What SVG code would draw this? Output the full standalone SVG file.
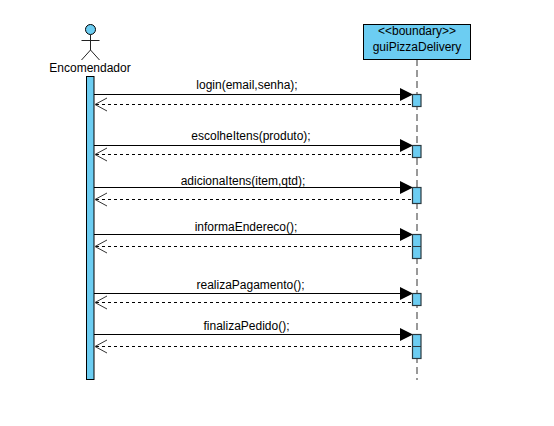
<svg xmlns="http://www.w3.org/2000/svg" width="554" height="426" viewBox="0 0 554 426">
<style>
text{font-family:"Liberation Sans",Arial,sans-serif;font-size:12px;fill:#000;text-anchor:middle}
.fill{fill:#6ccdf2;stroke:#000;stroke-width:1}
.act{fill:#6ccdf2;stroke:#2b3a40;stroke-width:1.2}
.sync{fill:none;stroke:#000;stroke-width:1}
.ret{fill:none;stroke:#000;stroke-width:1;stroke-dasharray:3 3}
.head{fill:#000;stroke:none}
.open{fill:none;stroke:#333;stroke-width:1}
.lim{fill:none;stroke:#222;stroke-width:1}
</style>
<rect width="554" height="426" fill="#fff"/>
<g id="connectors">
<line x1="417" y1="59" x2="417" y2="380" stroke="#808080" stroke-width="1.6" stroke-dasharray="7 4"/>
<g id="m1"><line class="sync" x1="94" y1="94.5" x2="402" y2="94.5"/><path class="head" d="M400 88L413 94.500L400 101Z"/><line class="ret" x1="96" y1="104.500" x2="412" y2="104.500"/><path class="open" d="M107 98L95 104.500L107 111"/></g>
<g id="m2"><line class="sync" x1="94" y1="145.500" x2="402" y2="145.500"/><path class="head" d="M400 139L413 145.500L400 152Z"/><line class="ret" x1="96" y1="154.500" x2="412" y2="154.500"/><path class="open" d="M107 148L95 154.500L107 161"/></g>
<g id="m3"><line class="sync" x1="94" y1="187.500" x2="402" y2="187.500"/><path class="head" d="M400 181L413 187.500L400 194Z"/><line class="ret" x1="96" y1="199.500" x2="412" y2="199.500"/><path class="open" d="M107 193L95 199.500L107 206"/></g>
<g id="m4"><line class="sync" x1="94" y1="234.500" x2="402" y2="234.500"/><path class="head" d="M400 228L413 234.500L400 241Z"/><line class="ret" x1="96" y1="246.500" x2="412" y2="246.500"/><path class="open" d="M107 240L95 246.500L107 253"/></g>
<g id="m5"><line class="sync" x1="94" y1="293.500" x2="402" y2="293.500"/><path class="head" d="M400 287L413 293.500L400 300Z"/><line class="ret" x1="96" y1="302.500" x2="412" y2="302.500"/><path class="open" d="M107 296L95 302.500L107 309"/></g>
<g id="m6"><line class="sync" x1="94" y1="334.500" x2="402" y2="334.500"/><path class="head" d="M400 328L413 334.500L400 341Z"/><line class="ret" x1="96" y1="346.500" x2="412" y2="346.500"/><path class="open" d="M107 340L95 346.500L107 353"/></g>
</g>
<g id="actor">
<circle class="fill" cx="90.500" cy="29.500" r="5"/>
<path class="lim" d="M90.500 35V50M81.500 40.500H99.500M81.500 60L90.500 50L99.500 60"/>
<text x="90" y="72">Encomendador</text>
<rect class="fill" x="86.500" y="76.500" width="7.500" height="303"/>
</g>
<g id="boundary">
<rect class="fill" x="363.500" y="24.500" width="107" height="35"/>
<text x="417" y="35">&lt;&lt;boundary&gt;&gt;</text>
<text x="417" y="51">guiPizzaDelivery</text>
</g>
<g id="activations">
<rect class="act" x="412.500" y="94.500" width="8.500" height="12"/>
<rect class="act" x="412.500" y="145.500" width="8.500" height="12"/>
<rect class="act" x="412.500" y="187.500" width="8.500" height="16"/>
<rect class="act" x="412.500" y="234.500" width="8.500" height="24"/><line x1="412.500" y1="246.500" x2="421" y2="246.500" stroke="#2b3a40"/>
<rect class="act" x="412.500" y="293.500" width="8.500" height="12"/>
<rect class="act" x="412.500" y="334.500" width="8.500" height="24"/><line x1="412.500" y1="346.500" x2="421" y2="346.500" stroke="#2b3a40"/>
</g>
<g id="labels">
<text x="247" y="89">login(email,senha);</text>
<text x="251" y="140">escolheItens(produto);</text>
<text x="243" y="185">adicionaItens(item,qtd);</text>
<text x="246" y="231">informaEndereco();</text>
<text x="250.500" y="289">realizaPagamento();</text>
<text x="246.500" y="330">finalizaPedido();</text>
</g>
</svg>
